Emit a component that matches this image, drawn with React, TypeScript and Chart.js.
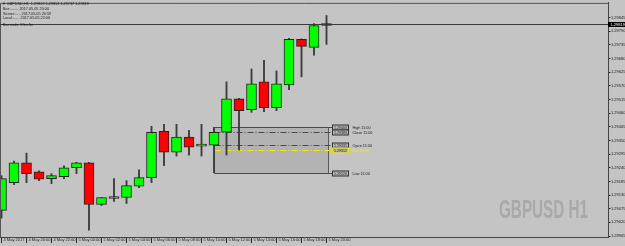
import React, { useEffect, useRef } from 'react';
import { Chart, registerables } from 'chart.js';
Chart.register(...registerables);

// ---- data (GBPUSD H1, bars from 4 May 18:00 to 5 May 20:00) ----
const opens = [1.29068, 1.29180, 1.29260, 1.29224, 1.29196, 1.29204, 1.29240, 1.29260, 1.29092, 1.29116, 1.29120, 1.29166, 1.29200, 1.29387, 1.29303, 1.29363, 1.29327, 1.29331, 1.29383, 1.29518, 1.29474, 1.29586, 1.29482, 1.29574, 1.29757, 1.29725, 1.29813];
const highs = [1.29208, 1.29267, 1.29299, 1.29228, 1.29216, 1.29248, 1.29262, 1.29262, 1.29121, 1.29196, 1.29188, 1.29232, 1.29407, 1.29415, 1.29415, 1.29391, 1.29415, 1.29403, 1.29586, 1.29520, 1.29638, 1.29673, 1.29630, 1.29761, 1.29759, 1.29821, 1.29853];
const lows = [1.29037, 1.29172, 1.29180, 1.29188, 1.29176, 1.29196, 1.29216, 1.28989, 1.29088, 1.29104, 1.29096, 1.29160, 1.29180, 1.29248, 1.29287, 1.29291, 1.29287, 1.29220, 1.29291, 1.29311, 1.29463, 1.29466, 1.29470, 1.29554, 1.29606, 1.29693, 1.29737];
const closes = [1.29196, 1.29260, 1.29216, 1.29194, 1.29208, 1.29240, 1.29260, 1.29092, 1.29120, 1.29122, 1.29168, 1.29200, 1.29383, 1.29303, 1.29363, 1.29323, 1.29331, 1.29383, 1.29518, 1.29470, 1.29578, 1.29482, 1.29578, 1.29757, 1.29729, 1.29813, 1.29819];

const xTickLabels = ['4 May 2017', '4 May 20:00', '4 May 22:00', '5 May 00:00', '5 May 02:00', '5 May 04:00', '5 May 06:00', '5 May 08:00', '5 May 10:00', '5 May 12:00', '5 May 14:00', '5 May 16:00', '5 May 18:00', '5 May 20:00'];
const yTickValues = [1.28965, 1.29020, 1.29075, 1.29130, 1.29185, 1.29240, 1.29295, 1.29350, 1.29405, 1.29460, 1.29515, 1.29570, 1.29625, 1.29680, 1.29735, 1.29790, 1.29845];

const symbolTitle = 'GBPUSD H1';
const headerLines = ['Bar:........ 2017.05.05 20:00', 'Server:..... 2017.05.05 20:59', 'Local:...... 2017.05.05 22:00'];
const barEndsText = 'Bar ends: 59m 5s';

const rangeBar = 17; // 11:00 bar
const rangeHour = '11:00';
const boxToBar = 26.1;
const labelAtBar = 26.45;

// ---- scale ranges ----
const Y_MIN = 1.28961;
const Y_MAX = 1.29904;
const X_MIN = -0.12;
const X_MAX = 48.52;

const BG = '#c4c4c4';
const FONT = '"Liberation Sans", Arial, sans-serif';

const mtPlugin = {
  id: 'mt',
  beforeDraw(chart: any) {
    const { ctx, width, height } = chart;
    ctx.save();
    ctx.fillStyle = BG;
    ctx.fillRect(0, 0, width, height);
    ctx.restore();
  },
  beforeDatasetsDraw(chart: any) {
    const { ctx, chartArea: ca, scales } = chart;
    const x = scales.x, y = scales.y;
    // watermark
    ctx.save();
    ctx.font = 'bold 25px "Liberation Sans", "DejaVu Sans", sans-serif';
    const w = ctx.measureText(symbolTitle).width;
    const target = 89;
    ctx.translate(ca.right - 20 - target, ca.bottom - 19);
    ctx.scale(target / w, 1);
    ctx.fillStyle = '#a9a9a9';
    ctx.textBaseline = 'alphabetic';
    ctx.fillText(symbolTitle, 0, 0);
    ctx.restore();

    // range box of the 11:00 bar
    const h = highs[rangeBar], l = lows[rangeBar];
    const x0 = Math.round(x.getPixelForValue(rangeBar)) + 0.5;
    const x1 = Math.round(x.getPixelForValue(boxToBar)) + 0.5;
    const yH = Math.round(y.getPixelForValue(h)) + 0.5;
    const yL = Math.round(y.getPixelForValue(l)) + 0.5;
    ctx.save();
    ctx.fillStyle = '#b3b3b3';
    ctx.fillRect(x0, yH, x1 - x0, yL - yH);
    ctx.strokeStyle = '#5a5a5a';
    ctx.lineWidth = 1;
    ctx.strokeRect(x0, yH, x1 - x0, yL - yH);
    ctx.restore();

    // level lines
    const xe = x.getPixelForValue(labelAtBar);
    const levels = getLevels();
    ctx.save();
    levels.forEach((lv) => {
      const yy = Math.round(y.getPixelForValue(lv.price)) + 0.5;
      ctx.strokeStyle = lv.color;
      ctx.lineWidth = 1;
      ctx.setLineDash(lv.dash);
      ctx.beginPath();
      ctx.moveTo(x0, yy);
      ctx.lineTo(xe, yy);
      ctx.stroke();
    });
    ctx.restore();
  },
  afterDraw(chart: any) {
    const { ctx, chartArea: ca, scales } = chart;
    const x = scales.x, y = scales.y;
    ctx.save();
    // frame
    ctx.strokeStyle = '#555555';
    ctx.lineWidth = 1;
    ctx.beginPath();
    ctx.moveTo(ca.left + 0.5, ca.bottom);
    ctx.lineTo(ca.left + 0.5, ca.top + 0.5);
    ctx.lineTo(ca.right, ca.top + 0.5);
    ctx.stroke();

    // bid line
    const last = closes[closes.length - 1];
    const yb = Math.round(y.getPixelForValue(last)) + 0.5;
    ctx.strokeStyle = '#3a3a3a';
    ctx.beginPath();
    ctx.moveTo(ca.left, yb);
    ctx.lineTo(ca.right, yb);
    ctx.stroke();
    ctx.fillStyle = '#000000';
    ctx.fillRect(ca.right, yb - 2.5, 17, 5);
    ctx.fillStyle = '#ffffff';
    ctx.font = `4px ${FONT}`;
    ctx.textBaseline = 'middle';
    ctx.textAlign = 'left';
    ctx.fillText(last.toFixed(5), ca.right + 2.5, yb);

    // header
    ctx.fillStyle = '#1a1a1a';
    ctx.font = `3.8px ${FONT}`;
    const n = opens.length - 1;
    ctx.fillText(`\u25BC GBPUSD,H1  ${opens[n].toFixed(5)} ${highs[n].toFixed(5)} ${lows[n].toFixed(5)} ${closes[n].toFixed(5)}`, 2, 4);
    headerLines.forEach((t, i) => ctx.fillText(t, 3, 9 + i * 4.6));
    ctx.fillText(barEndsText, 3, 24.5);

    // level labels
    const xe = Math.round(x.getPixelForValue(labelAtBar)) + 0.5;
    getLevels().forEach((lv) => {
      const yy = Math.round(y.getPixelForValue(lv.price)) + 0.5;
      ctx.setLineDash([]);
      ctx.fillStyle = '#b8b8b8';
      ctx.fillRect(xe, yy - 2.5, 16, 5);
      ctx.strokeStyle = lv.boxColor;
      ctx.strokeRect(xe, yy - 2.5, 16, 5);
      ctx.fillStyle = '#202020';
      ctx.font = `3.6px ${FONT}`;
      ctx.fillText(lv.price.toFixed(5), xe + 1.5, yy);
      ctx.fillStyle = lv.textColor;
      ctx.font = `3.8px ${FONT}`;
      ctx.fillText(lv.name, xe + 20, yy);
    });
    ctx.restore();
  },
};

function getLevels() {
  const h = highs[rangeBar], l = lows[rangeBar];
  const o = opens[rangeBar], c = closes[rangeBar];
  return [
    { name: `High ${rangeHour}`, price: h, color: '#4a4a4a', dash: [], boxColor: '#303030', textColor: '#202020' },
    { name: `Close ${rangeHour}`, price: c, color: '#4a4a4a', dash: [6, 2, 1, 2], boxColor: '#303030', textColor: '#202020' },
    { name: `Open ${rangeHour}`, price: o, color: '#4a4a4a', dash: [6, 2, 1, 2], boxColor: '#303030', textColor: '#202020' },
    { name: `Mid ${rangeHour}`, price: (h + l) / 2, color: '#f0f000', dash: [6, 2, 1, 2], boxColor: '#e8e800', textColor: '#eeee00' },
    { name: `Low ${rangeHour}`, price: l, color: '#4a4a4a', dash: [], boxColor: '#303030', textColor: '#202020' },
  ];
}

export default function App() {
  const ref = useRef<HTMLCanvasElement>(null);
  useEffect(() => {
    document.body.style.margin = '0';
    const canvas = ref.current!;
    const bodyColors = opens.map((o, i) => (closes[i] >= o ? '#00ff00' : '#ff0000'));
    const chart = new Chart(canvas, {
      type: 'bar',
      data: {
        datasets: [
          {
            label: 'body',
            data: opens.map((o, i) => ({ x: i, y: [o, closes[i]] })) as any,
            backgroundColor: bodyColors,
            borderColor: '#222222',
            borderWidth: 1,
            borderSkipped: false,
            barThickness: 10,
            minBarLength: 2,
            grouped: false,
            order: 0,
          } as any,
          {
            label: 'wick',
            data: lows.map((l, i) => ({ x: i, y: [l, highs[i]] })) as any,
            backgroundColor: '#3c3c3c',
            borderWidth: 0,
            barThickness: 1.2,
            grouped: false,
            order: 1,
          } as any,
        ],
      },
      options: {
        animation: false,
        responsive: false,
        devicePixelRatio: 1,
        layout: { padding: 0 },
        plugins: { legend: { display: false }, tooltip: { enabled: false } },
        scales: {
          x: {
            type: 'linear',
            min: X_MIN,
            max: X_MAX,
            offset: false,
            afterBuildTicks: (s: any) => {
              s.ticks = xTickLabels.map((_, k) => ({ value: k * 2 }));
            },
            afterFit: (s: any) => {
              s.height = 9;
            },
            ticks: {
              autoSkip: false,
              maxRotation: 0,
              minRotation: 0,
              align: 'start',
              labelOffset: 2,
              padding: -5.5,
              color: '#1a1a1a',
              font: { size: 4, family: FONT },
              callback: (v: any) => xTickLabels[Math.round(Number(v) / 2)] ?? '',
            },
            grid: { drawOnChartArea: false, drawTicks: true, tickLength: 6, color: '#2a2a2a', offset: false },
            border: { display: true, color: '#444444', width: 1 },
          },
          y: {
            type: 'linear',
            position: 'right',
            min: Y_MIN,
            max: Y_MAX,
            afterBuildTicks: (s: any) => {
              s.ticks = yTickValues.map((v) => ({ value: v }));
            },
            afterFit: (s: any) => {
              s.width = 17;
            },
            ticks: {
              autoSkip: false,
              padding: 0.5,
              color: '#1a1a1a',
              font: { size: 4, family: FONT },
              callback: (v: any) => Number(v).toFixed(5),
            },
            grid: { drawOnChartArea: false, drawTicks: true, tickLength: 2.5, color: '#2a2a2a' },
            border: { display: true, color: '#444444', width: 1 },
          },
        },
      } as any,
      plugins: [mtPlugin],
    });
    return () => chart.destroy();
  }, []);
  return (
    <div style={{ width: 625, height: 246 }}>
      <canvas ref={ref} width={625} height={246} style={{ display: 'block' }} />
    </div>
  );
}
